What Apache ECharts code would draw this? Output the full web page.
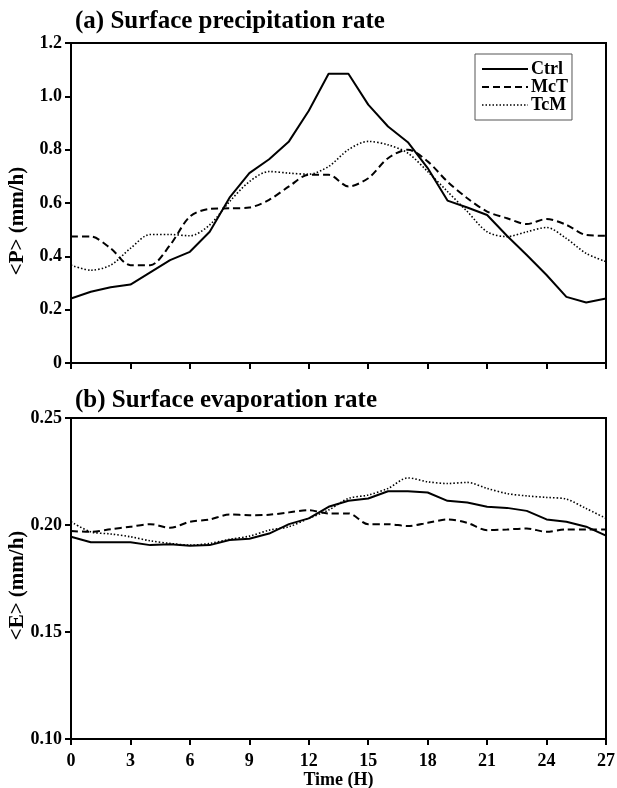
<!DOCTYPE html>
<html>
<head>
<meta charset="utf-8">
<script src="https://cdn.jsdelivr.net/npm/echarts@6/dist/echarts.min.js"></script>
<style>html,body{margin:0;padding:0;background:#fff}#c{width:617px;height:788px}</style>
</head>
<body>
<div id="c"></div>
<script>
var hours = [0,1,2,3,4,5,6,7,8,9,10,11,12,13,14,15,16,17,18,19,20,21,22,23,24,25,26,27];
var xTicks = [0,3,6,9,12,15,18,21,24,27];
var seriesNames = ['Ctrl','McT','TcM'];
var precipCtrl = [0.242,0.267,0.284,0.294,0.340,0.386,0.417,0.492,0.620,0.712,0.764,0.831,0.946,1.085,1.085,0.969,0.887,0.828,0.731,0.609,0.583,0.555,0.477,0.405,0.330,0.248,0.227,0.242];
var precipMcT  = [0.474,0.474,0.430,0.367,0.367,0.442,0.549,0.578,0.580,0.583,0.612,0.662,0.706,0.706,0.662,0.693,0.768,0.800,0.756,0.680,0.618,0.568,0.543,0.521,0.540,0.518,0.480,0.477];
var precipTcM  = [0.367,0.348,0.367,0.430,0.482,0.482,0.477,0.518,0.605,0.680,0.718,0.712,0.708,0.737,0.800,0.831,0.818,0.787,0.718,0.643,0.568,0.492,0.474,0.492,0.508,0.467,0.411,0.380];
var evapCtrl = [0.1945,0.1919,0.1919,0.1919,0.1906,0.1910,0.1903,0.1906,0.1930,0.1936,0.1960,0.2004,0.2031,0.2085,0.2113,0.2124,0.2158,0.2158,0.2152,0.2113,0.2105,0.2085,0.2080,0.2066,0.2026,0.2015,0.1992,0.1950];
var evapMcT  = [0.1972,0.1968,0.1980,0.1992,0.2004,0.1987,0.2015,0.2026,0.2049,0.2046,0.2048,0.2059,0.2069,0.2054,0.2054,0.2004,0.2004,0.1995,0.2010,0.2026,0.2010,0.1976,0.1979,0.1984,0.1968,0.1979,0.1979,0.1979];
var evapTcM  = [0.2015,0.1968,0.1958,0.1945,0.1926,0.1914,0.1906,0.1914,0.1933,0.1948,0.1976,0.1992,0.2031,0.2070,0.2124,0.2140,0.2171,0.2220,0.2202,0.2194,0.2199,0.2171,0.2147,0.2136,0.2129,0.2121,0.2077,0.2031];
var titleA = '(a) Surface precipitation rate';
var titleB = '(b) Surface evaporation rate';
var yNameA = '<P> (mm/h)';
var yNameB = '<E> (mm/h)';
var xName = 'Time (H)';

var FONT = '"Liberation Serif", "Times New Roman", serif';
function pairs(ys){ return hours.map(function(h,i){ return [h, ys[i]]; }); }
var styles = [
  {type:'solid', width:2, smooth:false},
  {type:[7,4], width:2, smooth:0.3},
  {type:[1.5,2], width:1.6, smooth:0.3}
];
function mk(name, data, gi, si){
  var s = styles[si];
  return {name:name, type:'line', xAxisIndex:gi, yAxisIndex:gi, data:pairs(data), symbol:'none', showSymbol:false, smooth:s.smooth,
    lineStyle:{color:'#000', width:s.width, type:s.type}, itemStyle:{color:'#000'}, animation:false};
}
var axisLine = {show:true, lineStyle:{color:'#000', width:2}};
var axisTick = {show:true, length:6, lineStyle:{color:'#000', width:2}};
var lblStyle = {color:'#000', fontFamily:FONT, fontWeight:'bold', fontSize:18};
var yNameStyle = {color:'#000', fontFamily:FONT, fontWeight:'bold', fontSize:21};

var chart = echarts.init(document.getElementById('c'), null, {renderer:'canvas'});
chart.setOption({
  animation:false,
  backgroundColor:'#fff',
  title:[
    {text:titleA, left:70, top:4, textStyle:{fontFamily:FONT, fontWeight:'bold', fontSize:25, color:'#000'}},
    {text:titleB, left:70, top:383, textStyle:{fontFamily:FONT, fontWeight:'bold', fontSize:25, color:'#000'}}
  ],
  legend:{
    data:seriesNames, orient:'vertical', left:475, top:54, itemWidth:46, itemHeight:12, itemGap:0,
    borderColor:'#555', borderWidth:1, padding:[6,4,6,6], backgroundColor:'#fff',
    itemStyle:{opacity:0}, lineStyle:{type:'inherit', width:'inherit', color:'#000'},
    textStyle:{fontFamily:FONT, fontWeight:'bold', fontSize:18, lineHeight:17, color:'#000', padding:[0,0,0,-2]},
    selectedMode:false
  },
  grid:[
    {left:71, right:11, top:43, height:320, show:true, borderColor:'#000', borderWidth:2, backgroundColor:'transparent', containLabel:false, outerBoundsMode:'none'},
    {left:71, right:11, top:418, height:321, show:true, borderColor:'#000', borderWidth:2, backgroundColor:'transparent', containLabel:false, outerBoundsMode:'none'}
  ],
  xAxis:[
    {type:'value', gridIndex:0, min:0, max:27, interval:3, axisLine:axisLine, axisTick:axisTick, axisLabel:{show:false}, splitLine:{show:false}},
    {type:'value', gridIndex:1, min:0, max:27, interval:3, axisLine:axisLine, axisTick:axisTick,
      axisLabel:Object.assign({margin:13}, lblStyle), splitLine:{show:false},
      name:xName, nameLocation:'middle', nameGap:30, nameTextStyle:lblStyle}
  ],
  yAxis:[
    {type:'value', gridIndex:0, min:0, max:1.2, interval:0.2, axisLine:axisLine, axisTick:axisTick, splitLine:{show:false},
      axisLabel:Object.assign({margin:9, formatter:function(v){ return v===0 ? '0' : v.toFixed(1); }}, lblStyle),
      name:yNameA, nameLocation:'middle', nameGap:43, nameMoveOverlap:false, nameTextStyle:Object.assign({padding:[0,36,0,0]}, yNameStyle)},
    {type:'value', gridIndex:1, min:0.10, max:0.25, interval:0.05, axisLine:axisLine, axisTick:axisTick, splitLine:{show:false},
      axisLabel:Object.assign({margin:9, formatter:function(v){ return v.toFixed(2); }}, lblStyle),
      name:yNameB, nameLocation:'middle', nameGap:43, nameMoveOverlap:false, nameTextStyle:Object.assign({padding:[0,14,0,0]}, yNameStyle)}
  ],
  series:[
    mk('Ctrl', precipCtrl, 0, 0), mk('McT', precipMcT, 0, 1), mk('TcM', precipTcM, 0, 2),
    mk('Ctrl', evapCtrl, 1, 0), mk('McT', evapMcT, 1, 1), mk('TcM', evapTcM, 1, 2)
  ]
});
</script>
</body>
</html>
